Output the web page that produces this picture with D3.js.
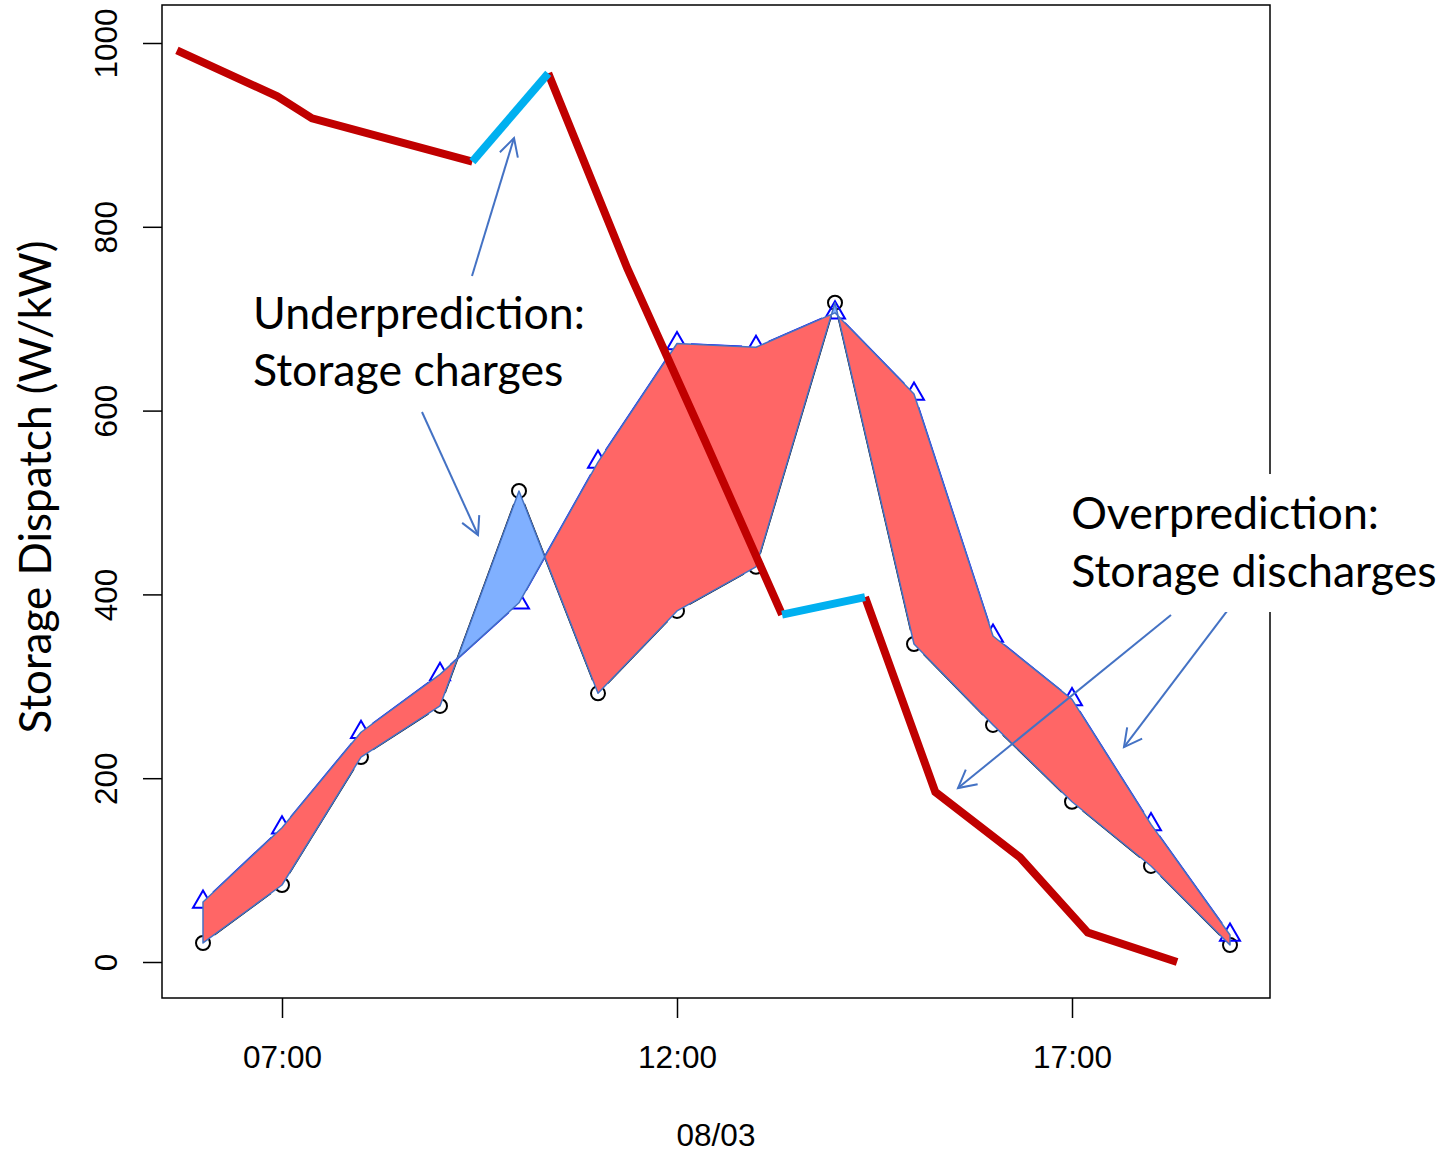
<!DOCTYPE html>
<html><head><meta charset="utf-8">
<script src="https://cdn.jsdelivr.net/npm/d3@7"></script>
<style>body{margin:0;background:#fff}</style>
</head><body>
<svg id="c" width="1447" height="1152"></svg>
<script>
// ---- data ----
const hours = [6,7,8,9,10,11,12,13,14,15,16,17,18,19];
const actual = [20.7, 83.8, 223, 278.6, 512.6, 292.4, 382, 430, 717.4, 346, 258, 174.4, 104.5, 18.5];
const predicted = [65.3, 146, 250, 313, 390.9, 544, 673, 669, 706.4, 618, 354.7, 285.7, 149.7, 29.4];
const socHours = [5.67, 6.94, 7.38, 9.41, 10.37, 11.37, 12.35, 13.33, 14.38, 15.27, 16.34, 17.20, 18.33];
const socValues = [992, 942, 918, 871, 967, 755, 568, 378, 397, 185, 114, 32, 0];
const yTicks = [0, 200, 400, 600, 800, 1000];
const xTicks = [7, 12, 17];
const xTickLabels = ["07:00", "12:00", "17:00"];
const dateLabel = "08/03";
const yTitle = "Storage Dispatch (W/kW)";
const underText = ["Underprediction:", "Storage charges"];
const overText = ["Overprediction:", "Storage discharges"];
// arrows: [tailHour, tailValue, tipHour, tipValue]
const arrows = [
  [9.405, 746.5, 9.937, 896.6],
  [8.772, 598.5, 9.481, 464.6],
  [18.253, 377.6, 15.557, 189.3],
  [18.962, 381.9, 17.658, 233.9]
];

// ---- layout ----
const svg = d3.select("#c");
const box = {l:162, t:5, r:1270, b:998};
const x = d3.scaleLinear().domain([6,19]).range([203,1230]);
const y = d3.scaleLinear().domain([0,1000]).range([962,43]);
const tickFont = "'Liberation Sans', Arial, sans-serif";
const annFont = "Lato, 'Open Sans', sans-serif";

// axes
const gy = svg.append("g").attr("transform", `translate(${box.l},0)`)
  .call(d3.axisLeft(y).tickValues(yTicks).tickSize(19).tickFormat(d3.format("d")));
gy.select(".domain").remove();
gy.selectAll(".tick line").attr("stroke","#000").attr("stroke-width",1.5);
gy.selectAll(".tick text").attr("x",0).attr("dy",0)
  .attr("transform","translate(-45,0) rotate(-90)").attr("text-anchor","middle")
  .attr("font-family",tickFont).attr("font-size",31.5).attr("fill","#000");

const gx = svg.append("g").attr("transform", `translate(0,${box.b})`)
  .call(d3.axisBottom(x).tickValues(xTicks).tickSize(20).tickFormat((d,i)=>xTickLabels[i]));
gx.select(".domain").remove();
gx.selectAll(".tick line").attr("stroke","#000").attr("stroke-width",1.5);
gx.selectAll(".tick text").attr("y",70).attr("dy",0)
  .attr("font-family",tickFont).attr("font-size",31.5).attr("fill","#000");

svg.append("text").attr("x",(box.l+box.r)/2).attr("y",1146).attr("text-anchor","middle")
  .attr("font-family",tickFont).attr("font-size",31.5).text(dateLabel);

// y title, fitted to reference length
const yt = svg.append("text").attr("text-anchor","middle")
  .attr("transform","translate(51,487) rotate(-90)")
  .attr("font-family",annFont).attr("font-size",40).text(yTitle);
{ const L = yt.node().getComputedTextLength(); yt.attr("font-size", 40*493/L); }

// ---- data lines with gaps (type "b") ----
function gappedSegments(hs, vs, gap) {
  const segs = [];
  for (let i=0;i<hs.length-1;i++){
    const x0=x(hs[i]), y0=y(vs[i]), x1=x(hs[i+1]), y1=y(vs[i+1]);
    const L=Math.hypot(x1-x0,y1-y0);
    if (L>2*gap){ const ux=(x1-x0)/L, uy=(y1-y0)/L;
      segs.push([x0+ux*gap,y0+uy*gap,x1-ux*gap,y1-uy*gap]); }
  }
  return segs;
}
svg.append("g").selectAll("line").data(gappedSegments(hours,actual,14)).join("line")
  .attr("x1",d=>d[0]).attr("y1",d=>d[1]).attr("x2",d=>d[2]).attr("y2",d=>d[3])
  .attr("stroke","#000").attr("stroke-width",2);
svg.append("g").selectAll("line").data(gappedSegments(hours,predicted,14)).join("line")
  .attr("x1",d=>d[0]).attr("y1",d=>d[1]).attr("x2",d=>d[2]).attr("y2",d=>d[3])
  .attr("stroke","#0000FF").attr("stroke-width",2);
svg.append("g").selectAll("circle").data(hours).join("circle")
  .attr("cx",(d)=>x(d)).attr("cy",(d,i)=>y(actual[i])).attr("r",7)
  .attr("fill","none").attr("stroke","#000").attr("stroke-width",2);
const ts=20, th=ts*Math.sqrt(3)/2;
svg.append("g").selectAll("path").data(hours).join("path")
  .attr("d",(d,i)=>{const cx=x(d), cy=y(predicted[i]);
    return `M${cx},${cy-2*th/3}L${cx+ts/2},${cy+th/3}L${cx-ts/2},${cy+th/3}Z`;})
  .attr("fill","none").attr("stroke","#0000FF").attr("stroke-width",2);

// ---- band polygons ----
const polys=[]; let cur=null;
for (let i=0;i<hours.length;i++){
  const d=predicted[i]-actual[i]; const s = d>=0?1:-1;
  if(!cur){cur={s, p:[[hours[i],predicted[i]]], a:[[hours[i],actual[i]]]}; continue;}
  if(s===cur.s){cur.p.push([hours[i],predicted[i]]); cur.a.push([hours[i],actual[i]]);}
  else{
    const dp=predicted[i-1]-actual[i-1]; const t=dp/(dp-d);
    const hx=hours[i-1]+t*(hours[i]-hours[i-1]); const v=actual[i-1]+t*(actual[i]-actual[i-1]);
    cur.p.push([hx,v]); cur.a.push([hx,v]); polys.push(cur);
    cur={s, p:[[hx,v],[hours[i],predicted[i]]], a:[[hx,v],[hours[i],actual[i]]]};
  }
}
polys.push(cur);
svg.append("g").selectAll("path").data(polys).join("path")
  .attr("d",d=>"M"+d.p.concat(d.a.slice().reverse()).map(q=>x(q[0])+","+y(q[1])).join("L")+"Z")
  .attr("fill",d=>d.s>0?"#FF6666":"#80B0FF")
  .attr("stroke","#4472C4").attr("stroke-width",1.5).attr("stroke-linejoin","round");

// ---- storage state line: red when falling, cyan when rising ----
const runs=[];
for(let i=0;i<socHours.length-1;i++){
  const c = socValues[i+1]>socValues[i] ? "#00B0F0" : "#C00000";
  const last=runs[runs.length-1];
  if(last && last.c===c) last.pts.push([socHours[i+1],socValues[i+1]]);
  else runs.push({c, pts:[[socHours[i],socValues[i]],[socHours[i+1],socValues[i+1]]]});
}
runs.sort((a,b)=>(a.c==="#C00000"?0:1)-(b.c==="#C00000"?0:1));
const line=d3.line().x(d=>x(d[0])).y(d=>y(d[1]));
svg.append("g").selectAll("path").data(runs).join("path")
  .attr("d",d=>line(d.pts)).attr("fill","none").attr("stroke",d=>d.c)
  .attr("stroke-width",8).attr("stroke-linejoin","miter");

// frame
svg.append("rect").attr("x",box.l).attr("y",box.t).attr("width",box.r-box.l).attr("height",box.b-box.t)
  .attr("fill","none").attr("stroke","#000").attr("stroke-width",1.5);

// ---- annotations ----
const ag=svg.append("g").attr("stroke","#4472C4").attr("stroke-width",2).attr("fill","none");
arrows.forEach(a=>{
  const x0=x(a[0]),y0=y(a[1]),x1=x(a[2]),y1=y(a[3]);
  const ang=Math.atan2(y1-y0,x1-x0), hl=20, ha=Math.PI/180*28;
  ag.append("line").attr("x1",x0).attr("y1",y0).attr("x2",x1).attr("y2",y1);
  ag.append("path").attr("d",`M${x1-hl*Math.cos(ang-ha)},${y1-hl*Math.sin(ang-ha)}L${x1},${y1}L${x1-hl*Math.cos(ang+ha)},${y1-hl*Math.sin(ang+ha)}`);
});

// white box behind overprediction text
svg.append("rect").attr("x",x(16.87)).attr("y",y(531)).attr("width",380).attr("height",138).attr("fill","#fff");

function annText(lines, hx, v1, v2){
  const g=svg.append("g");
  const t=lines.map((s,i)=>g.append("text").attr("x",x(hx)).attr("y",y(i?v2:v1))
    .attr("font-family",annFont).attr("font-size",40).attr("fill","#000").text(s));
  return t;
}
const ut=annText(underText,6.633,689,627);
const ot=annText(overText,16.99,471,408);
const fs=40*332/ut[0].node().getComputedTextLength();
ut.concat(ot).forEach(t=>t.attr("font-size",fs));
</script>
</body></html>
